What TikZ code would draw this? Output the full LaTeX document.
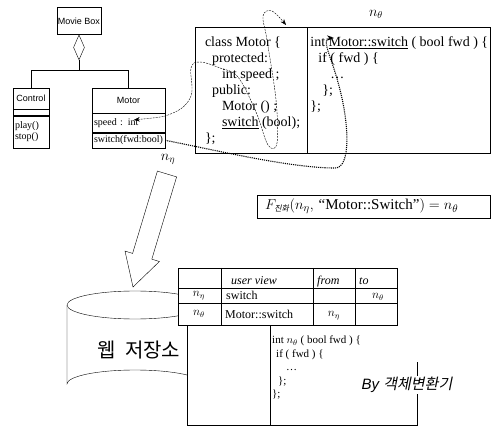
\documentclass[tikz,border=0pt]{standalone}
\usepackage{fontspec}
\setmainfont{Liberation Serif}
\setsansfont{Liberation Sans}
\newfontfamily\korfont{Noto Sans CJK KR}
\newfontfamily\korslant[FakeSlant=0.2]{Noto Sans CJK KR}
\usetikzlibrary{calc,positioning,shapes.geometric,arrows.meta}

\tikzset{
  classname/.style={draw, inner sep=0pt, font=\sffamily\fontsize{9}{10}\selectfont},
  members/.style={draw, inner xsep=2pt, inner ysep=0pt, align=left, font=\fontsize{10}{11}\selectfont},
  codetext/.style={inner sep=0pt, align=left, font=\fontsize{14}{16}\selectfont},
  celltext/.style={inner sep=0pt, font=\fontsize{12}{13}\selectfont},
}

\begin{document}
\begin{tikzpicture}[x=1pt, y=-1pt]
    \useasboundingbox (0,0) rectangle (492,427);

    % class diagram
    \node [classname, minimum width=44, minimum height=27] (moviebox) at (79,21) {Movie Box};
    \node [draw, diamond, inner sep=0pt, minimum width=11, minimum height=25, below=0pt of moviebox] (agg) {};

    \node [classname, minimum width=36, minimum height=21] (ctlname) at (31,98.5) {Control};
    \node [members, text width=32, minimum height=6, below=0pt of ctlname] (ctlattr) {};
    \node [members, text width=32, minimum height=32, below=0pt of ctlattr] (ctlops) {play()\\stop()};

    \node [classname, minimum width=73, minimum height=25] (mtrname) at (128.5,100.5) {Motor};
    \node [members, text width=69, minimum height=19, below=0pt of mtrname] (mtrattr) {speed : int};
    \node [members, text width=69, minimum height=15, below=0pt of mtrattr] (mtrops) {switch(fwd:bool)};

    \coordinate (fork) at ($(agg.south)+(0,10)$);
    \draw (agg.south) -- (fork);
    \draw (ctlname.north) |- (fork) -| (mtrname.north);

    \node [font=\fontsize{14}{14}\selectfont] (neta) at (168,159) {$n_{\eta}$};

    % source and converted code
    \node [draw, minimum width=112, minimum height=126, inner sep=0pt] (clsbox) at (251,90) {};
    \node [draw, minimum width=183, minimum height=126, inner sep=0pt, right=0pt of clsbox] (implbox) {};
    \node [font=\fontsize{14}{14}\selectfont] (ntheta) at (376,14) {$n_{\theta}$};

    \node [codetext, anchor=north west] (clscode) at ($(clsbox.north west)+(10,10)$)
        {class Motor \{\\
         \hspace*{7pt}protected:\\
         \hspace*{17pt}int speed ;\\
         \hspace*{7pt}public:\\
         \hspace*{17pt}Motor () ;\\
         \hspace*{17pt}\underline{switch} (bool);\\
         \};};
    \node [codetext, anchor=north west] (implcode) at ($(implbox.north west)+(3,10)$)
        {int \underline{Motor::switch} ( bool fwd ) \{\\
         \hspace*{8pt}if ( fwd ) \{\\
         \hspace*{20pt}\dots\\
         \hspace*{12pt}\};\\
         \};};

    % links from the model into the code
    \coordinate (speedmark) at ($(mtrattr.west)+(42,-3)$);
    \coordinate (topmark) at (286,25);
    \coordinate (swmark) at (334,38);
    \draw [thin, dash pattern=on 2pt off 1pt, {Stealth[length=6pt]}-{Stealth[length=6pt]}]
        plot [smooth, tension=0.6] coordinates {(speedmark) (173,113) (191,96) (191,68) (200,62) (220,68) (238,77)
                                                (256,112) (268,145) (277,143) (276,100) (267,40) (263,16) (272,11) (topmark)};
    \draw [densely dotted, line width=1.1pt, -{Stealth[length=7pt]}] (mtrops.east)
        .. controls (215,150) and (290,168) .. (335,168)
        .. controls (352,168) and (348,120) .. (340,90)
        .. controls (333,60) and (320,38) .. (swmark);

    % lookup function
    \node [draw, anchor=west, minimum height=23, inner xsep=8pt, text width=217, align=left,
           font=\fontsize{15}{18}\selectfont] (fbox) at (257,206.5)
        {$F_{\hbox{\korslant\fontsize{8}{8}\selectfont 진화}}(n_{\eta},$ “Motor::Switch”$) = n_{\theta}$};

    % hollow arrow down to the store
    \draw (176.6,176.9) -- (157.4,171.1) -- (132.6,253.4) -- (125.0,251.1) -- (133,287)
          -- (159.4,261.5) -- (151.8,259.2) -- cycle;

    % web store
    \draw (67,305) -- (67,384) arc [start angle=180, end angle=360, x radius=68, y radius=14] -- (203,305);
    \draw (135,305) ellipse [x radius=68, y radius=14];
    \node [font=\korfont\fontsize{20}{20}\selectfont] (store) at (139,350) {웹\ \ 저장소};

    % name table
    \fill [white] (178,268) rectangle (397,325);
    \fill [white] (187,325) rectangle (417,425);
    \draw (178,268) rectangle (397,325);
    \draw (178,288) -- (397,288);
    \draw (178,303) -- (397,303);
    \foreach \cx in {221,313,355}
        \draw (\cx,268) -- (\cx,325);

    \node [celltext, anchor=base west, font=\itshape\fontsize{12}{13}\selectfont] (hview) at (231,285) {user view};
    \node [celltext, anchor=base west, font=\itshape\fontsize{12}{13}\selectfont] (hfrom) at (317,285) {from};
    \node [celltext, anchor=base west, font=\itshape\fontsize{12}{13}\selectfont] (hto) at (359,285) {to};
    \node [celltext] (rowa) at (199,296) {$n_{\eta}$};
    \node [celltext, anchor=base west] (viewa) at (226,300) {switch};
    \node [celltext] (toa) at (378,297) {$n_{\theta}$};
    \node [celltext] (rowb) at (199,314) {$n_{\theta}$};
    \node [celltext, anchor=base west] (viewb) at (225,318) {Motor::switch};
    \node [celltext] (fromb) at (334,316) {$n_{\eta}$};

    % converted body
    \draw (397,325) -- (187,325) -- (187,425) -- (417,425) -- (417,362);
    \draw (270,325) -- (270,425);
    \node [codetext, anchor=north west, font=\fontsize{11}{13.5}\selectfont] (bodycode) at (272,336)
        {int $n_{\theta}$ ( bool fwd ) \{\\
         \hspace*{4pt}if ( fwd ) \{\\
         \hspace*{14pt}\dots\\
         \hspace*{6pt}\};\\
         \};};
    \node [fill=white, inner sep=1pt, font=\sffamily\itshape\fontsize{15}{15}\selectfont] (conv) at (407,385)
        {By {\korslant 객체변환기}};
\end{tikzpicture}
\end{document}
